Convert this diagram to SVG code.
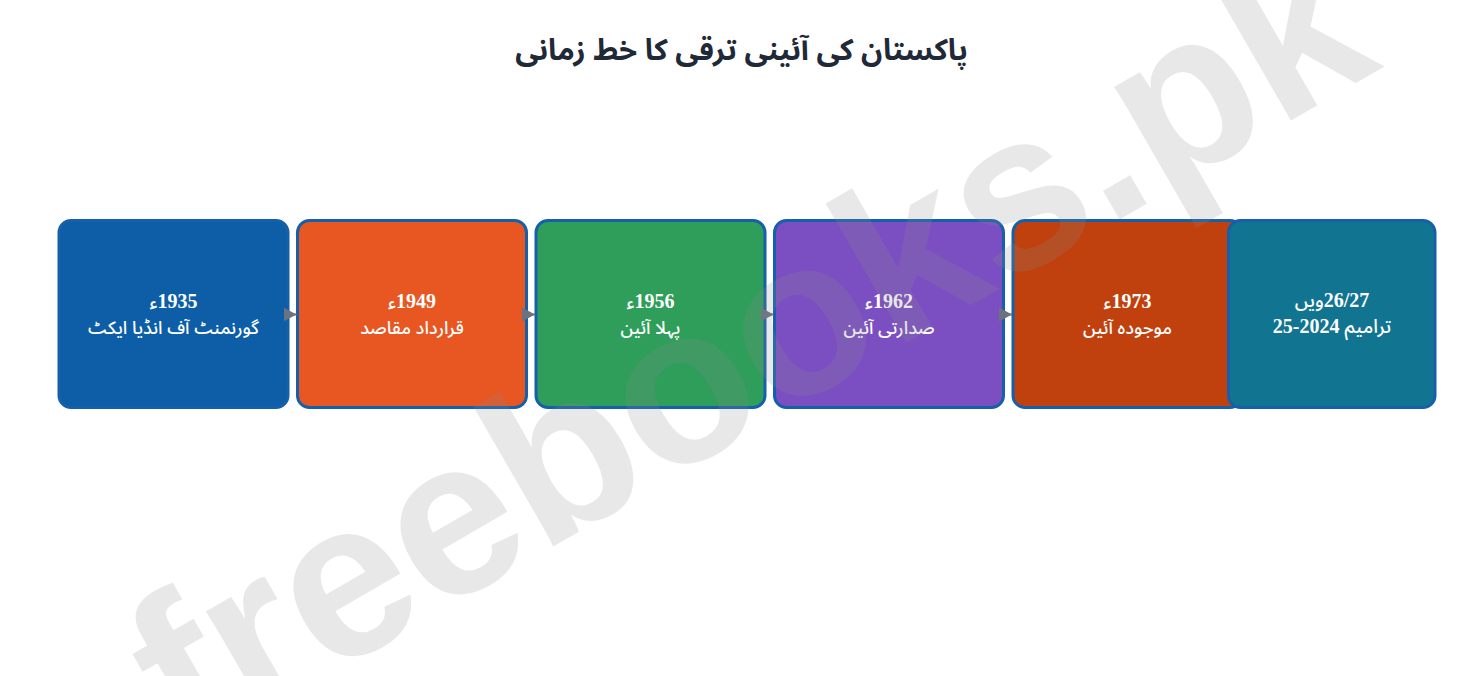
<svg xmlns="http://www.w3.org/2000/svg" width="1483" height="676" viewBox="0 0 1483 676">
  <defs>
    <marker id="arrow" viewBox="0 0 13 14" refX="13" refY="7" markerWidth="13" markerHeight="14" markerUnits="userSpaceOnUse" orient="auto">
      <path d="M0,0 L13,7 L0,14 Z" fill="#6b7280"/>
    </marker>
    <style>
      .node rect { stroke: #1560ab; stroke-width: 3; }
      .year { font-family: "Liberation Serif", "Noto Sans Arabic", "DejaVu Sans", serif; font-weight: bold; font-size: 20px; fill: #ffffff; text-anchor: middle; direction: rtl; unicode-bidi: embed; }
      .ar { font-family: "Noto Sans Arabic", "DejaVu Sans", sans-serif; font-weight: 500; font-size: 19px; }
      .label { font-family: "Noto Sans Arabic", "Noto Sans", "DejaVu Sans", sans-serif; font-size: 18px; font-weight: 500; fill: #ffffff; text-anchor: middle; direction: rtl; unicode-bidi: embed; }
      .title { font-family: "Noto Sans Arabic", "Noto Sans", "DejaVu Sans", sans-serif; font-size: 29.5px; font-weight: bold; fill: #1f2937; text-anchor: middle; direction: rtl; unicode-bidi: embed; }
      .edge { stroke: #6b7280; stroke-width: 2; fill: none; }
      .wm { font-family: "Liberation Sans", Arial, sans-serif; font-weight: bold; font-size: 222px; fill: #8c8c8c; fill-opacity: 0.2; text-anchor: middle; }
    </style>
  </defs>
  <rect width="1483" height="676" fill="#ffffff"/>
  <text class="title" x="741.5" y="60">پاکستان کی آئینی ترقی کا خط زمانی</text>

  <g id="n1935" class="node">
    <rect x="59" y="220.5" width="229" height="187" rx="12" fill="#0d5ea6" stroke="#0d5ea6"/>
    <text class="year" x="173.5" y="308">1935<tspan class="ar">ء</tspan></text>
    <text class="label" x="173.5" y="334">گورنمنٹ آف انڈیا ایکٹ</text>
  </g>
  <g id="n1949" class="node">
    <rect x="297.5" y="220.5" width="229" height="187" rx="12" fill="#e85621"/>
    <text class="year" x="412" y="308">1949<tspan class="ar">ء</tspan></text>
    <text class="label" x="412" y="334">قرارداد مقاصد</text>
  </g>
  <g id="n1956" class="node">
    <rect x="536" y="220.5" width="229" height="187" rx="12" fill="#2e9e5a"/>
    <text class="year" x="650.5" y="308">1956<tspan class="ar">ء</tspan></text>
    <text class="label" x="650.5" y="334">پہلا آئین</text>
  </g>
  <g id="n1962" class="node">
    <rect x="774.5" y="220.5" width="229" height="187" rx="12" fill="#7b4fc1"/>
    <text class="year" x="889" y="308">1962<tspan class="ar">ء</tspan></text>
    <text class="label" x="889" y="334">صدارتی آئین</text>
  </g>
  <g id="n1973" class="node">
    <rect x="1013" y="220.5" width="229" height="187" rx="12" fill="#c0410d"/>
    <text class="year" x="1127.5" y="308">1973<tspan class="ar">ء</tspan></text>
    <text class="label" x="1127.5" y="334">موجودہ آئین</text>
  </g>
  <g id="n2024" class="node">
    <rect x="1228.5" y="220.5" width="206.5" height="187" rx="12" fill="#117490"/>
    <text class="year" x="1332" y="307">26/27<tspan class="ar">ویں</tspan></text>
    <text class="year" x="1332" y="333"><tspan class="ar">ترامیم</tspan> 2024-25</text>
  </g>

  <g id="connectors">
    <path class="edge" d="M289,314.5 L296.5,314.5" marker-end="url(#arrow)"/>
    <path class="edge" d="M527.5,314.5 L535,314.5" marker-end="url(#arrow)"/>
    <path class="edge" d="M766,314.5 L773.5,314.5" marker-end="url(#arrow)"/>
    <path class="edge" d="M1004.5,314.5 L1012,314.5" marker-end="url(#arrow)"/>
  </g>

  <text class="wm" transform="translate(786,412) rotate(-30)" x="0" y="0">freebooks.pk</text>
</svg>
